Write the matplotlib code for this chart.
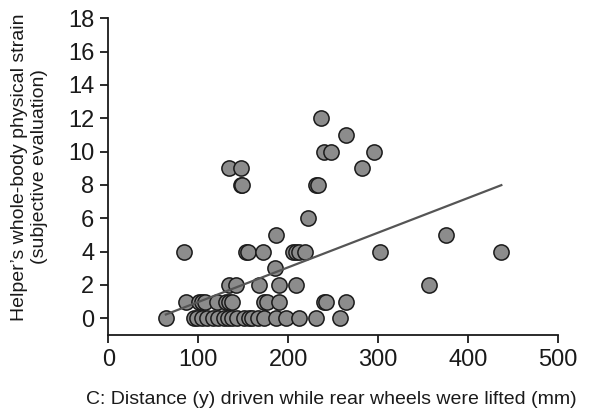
import matplotlib
matplotlib.use("Agg")
import matplotlib.pyplot as plt
import numpy as np

# Data
x_vals = [64, 95, 99, 104, 110, 116, 122, 129, 133, 138, 143, 151, 156, 160, 167, 173, 187, 198, 212, 231, 258,
          86, 101, 104, 108, 121, 131, 134, 138, 173, 176, 190, 240, 242, 264,
          134, 142, 168, 190, 209, 357,
          185,
          84, 153, 155, 172, 205, 209, 212, 219, 302, 437,
          187, 376,
          222,
          147, 149, 231, 233,
          134, 147, 282,
          240, 248, 295,
          264,
          236]
y_vals = [0] * 21 + [1] * 14 + [2] * 6 + [3] * 1 + [4] * 10 + [5] * 2 + [6] * 1 + [8] * 4 + [9] * 3 + [10] * 3 + [11] + [12]

fit_slope = 0.0208
fit_intercept = -1.10

x_ticks = [0, 100, 200, 300, 400, 500]
y_ticks = [0, 2, 4, 6, 8, 10, 12, 14, 16, 18]

x_label = "C: Distance (y) driven while rear wheels were lifted (mm)"
y_label = "Helper\u2019s whole-body physical strain\n(subjective evaluation)"

plt.rcParams['font.family'] = ['Liberation Sans', 'DejaVu Sans']

W, H = 594, 412
fig = plt.figure(figsize=(W / 100, H / 100), dpi=100)
ax = fig.add_axes([108.3 / W, 1 - 335 / H, 449.7 / W, (335 - 18.3) / H])

xs = np.array(x_vals, dtype=float)
ys = np.array(y_vals, dtype=float)
ax.scatter(xs, ys, s=120, facecolor='#8c8c8c', edgecolor='#1a1a1a', linewidths=1.1, zorder=3)

lx = np.array([xs.min(), xs.max()])
ax.plot(lx, fit_intercept + fit_slope * lx, color='#555555', lw=1.6, zorder=4)

ax.set_xlim(0, 500)
ax.set_ylim(-1, 18)
ax.set_xticks(x_ticks)
ax.set_yticks(y_ticks)
ax.spines['top'].set_visible(False)
ax.spines['right'].set_visible(False)
for s in ['left', 'bottom']:
    ax.spines[s].set_linewidth(1.3)
    ax.spines[s].set_color('#1a1a1a')
ax.tick_params(axis='both', direction='out', length=6, width=1.3, color='#1a1a1a',
               labelsize=17, labelcolor='#1a1a1a', pad=4)

fig.text(331 / W, 1 - 400 / H, x_label, ha='center', va='center', fontsize=14, color='#1a1a1a')
fig.text(29.5 / W, 1 - 167 / H, y_label, ha='center', va='center', rotation=90,
         multialignment='center', fontsize=14, color='#1a1a1a', linespacing=1.25)

fig.savefig("out.png", dpi=100)
